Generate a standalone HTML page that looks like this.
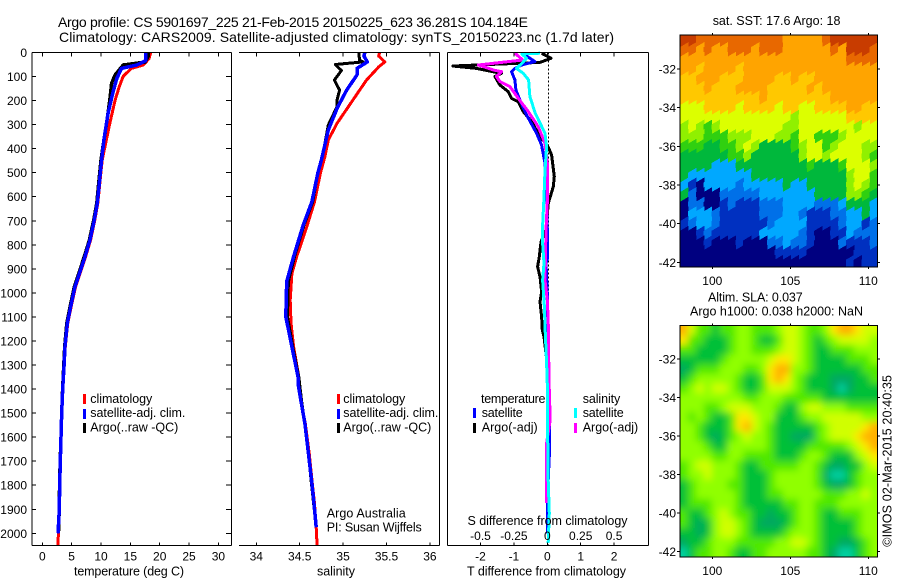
<!DOCTYPE html>
<html><head><meta charset="utf-8"><title>Argo profile</title>
<style>
html,body{margin:0;padding:0;background:#fff}
svg{display:block}
text{font-family:"Liberation Sans",sans-serif;font-size:12px;fill:#000}
.t{font-size:14px}
.k{font-size:12.5px}
</style></head><body>
<svg id="fig" xmlns="http://www.w3.org/2000/svg" width="900" height="580" viewBox="0 0 900 580">
<rect width="900" height="580" fill="#fff"/>
<g id="mapA"></g>
<g id="mapB"></g>
<g id="plots"></g>
<g id="axes"></g>
<text class="t" x="58" y="27" textLength="470" lengthAdjust="spacing">Argo profile: CS 5901697_225 21-Feb-2015 20150225_623 36.281S 104.184E</text>
<text class="t" x="59" y="42" textLength="555" lengthAdjust="spacing">Climatology: CARS2009. Satellite-adjusted climatology: synTS_20150223.nc (1.7d later)</text>
<text class="k" x="74" y="575.5" textLength="110" lengthAdjust="spacing">temperature (deg C)</text>
<text class="k" x="317" y="575.5" textLength="38" lengthAdjust="spacing">salinity</text>
<text class="k" x="467" y="575.5" textLength="159" lengthAdjust="spacing">T difference from climatology</text>
<text class="k" x="467.5" y="525" textLength="160" lengthAdjust="spacing">S difference from climatology</text>
<g>
<rect x="83" y="394" width="3" height="10" fill="#f00"/>
<text class="k" x="90.3" y="403" textLength="62" lengthAdjust="spacing">climatology</text>
<rect x="83" y="409" width="3" height="10" fill="#00f"/>
<text class="k" x="90.3" y="417" textLength="95" lengthAdjust="spacing">satellite-adj. clim.</text>
<rect x="83" y="423" width="3" height="10" fill="#000"/>
<text class="k" x="90.3" y="431.5" textLength="88" lengthAdjust="spacing">Argo(..raw -QC)</text>
</g>
<g>
<rect x="337" y="394" width="3" height="10" fill="#f00"/>
<text class="k" x="343.3" y="403" textLength="62" lengthAdjust="spacing">climatology</text>
<rect x="337" y="409" width="3" height="10" fill="#00f"/>
<text class="k" x="343.3" y="417" textLength="95" lengthAdjust="spacing">satellite-adj. clim.</text>
<rect x="337" y="423" width="3" height="10" fill="#000"/>
<text class="k" x="343.3" y="431.5" textLength="88" lengthAdjust="spacing">Argo(..raw -QC)</text>
</g>
<text class="k" x="326.7" y="517.7" textLength="79" lengthAdjust="spacing">Argo Australia</text>
<text class="k" x="326.7" y="531.7" textLength="95" lengthAdjust="spacing">PI: Susan Wijffels</text>
<g>
<text class="k" x="481" y="403" textLength="64.5" lengthAdjust="spacing">temperature</text>
<rect x="473" y="408" width="3" height="10" fill="#00f"/>
<text class="k" x="481.7" y="417" textLength="41" lengthAdjust="spacing">satellite</text>
<rect x="473" y="423" width="3" height="10" fill="#000"/>
<text class="k" x="481.7" y="431.5" textLength="56" lengthAdjust="spacing">Argo(-adj)</text>
<text class="k" x="582.7" y="403" textLength="37.6" lengthAdjust="spacing">salinity</text>
<rect x="574" y="408" width="3" height="10" fill="#0ff"/>
<text class="k" x="582.7" y="417" textLength="41" lengthAdjust="spacing">satellite</text>
<rect x="574" y="423" width="3" height="10" fill="#f0f"/>
<text class="k" x="582.7" y="431.5" textLength="55.5" lengthAdjust="spacing">Argo(-adj)</text>
</g>
<text class="k" x="712.7" y="25" textLength="127.7" lengthAdjust="spacing">sat. SST: 17.6 Argo: 18</text>
<text class="k" x="708" y="301.7" textLength="94.7" lengthAdjust="spacing">Altim. SLA: 0.037</text>
<text class="k" x="690" y="315.7" textLength="173" lengthAdjust="spacing">Argo h1000: 0.038 h2000: NaN</text>
<text class="k" transform="translate(891.7,546.7) rotate(-90)" textLength="171.7" lengthAdjust="spacing">©IMOS 02-Mar-2015 20:40:35</text>
</svg>
<script>
// ---- Profile data (depth in m, temperature in deg C, salinity in psu) ----
const depthTicks = [0,100,200,300,400,500,600,700,800,900,1000,1100,1200,1300,1400,1500,1600,1700,1800,1900,2000];
const tempTicks = [0,5,10,15,20,25,30];
const salTicks = [34,34.5,35,35.5,36];
const salTickLabels = ['34','34.5','35','35.5','36'];
const tDiffTicks = [-2,-1,0,1,2];
const tDiffLabels = ['-2','-1','0','1','2'];
const sDiffLabels = ['-0.5','-0.25','0','0.25','0.5'];
const lonTicks = [100,105,110];
const latTicks = [-32,-34,-36,-38,-40,-42];

const tempClimDepth = [0,25,52,66,98,143,198,295,371,447,544,627,697,780,849,912,974,1057,1127,1224,1307,1400,1500,1600,1700,1800,1900,2000,2052];
const tempClimValues = [18.46,18.2,17.2,15.2,13.8,13.1,12.4,11.5,10.85,10.2,9.8,9.45,8.95,8.22,7.37,6.52,5.67,4.92,4.33,3.92,3.72,3.5,3.32,3.2,3.08,2.97,2.9,2.75,2.65];
const tempArgoDepth = [0,18,40,52,93,128,198,285,395,447,544,627,697,780,849,912,974,1057,1127,1224,1307,1400,1500,1600,1700,1800,1900,1990];
const tempArgoValues = [18,18,17.5,13.8,12.4,11.8,11.5,11,10.3,10,9.6,9.28,8.76,8.03,7.15,6.3,5.47,4.74,4.18,3.82,3.65,3.46,3.3,3.18,3.05,2.95,2.88,2.78];
const tempSatDepth = [0,34,52,66,108,170,254,364,447,544,627,697,780,849,912,974,1057,1127,1224,1307,1355,1400,1500,1600,1700,1800,1900,1950,2000];
const tempSatValues = [17.6,17.6,16.1,13.5,12.7,12,11.2,10.5,10.1,9.71,9.37,8.86,8.13,7.27,6.42,5.57,4.84,4.26,3.87,3.7,3.58,3.48,3.3,3.19,3.07,2.96,2.9,2.8,2.67];

const salClimDepth = [0,15,39,60,115,157,226,295,364,433,500,621,738,849,919,1030,1125,1224,1349,1460,1543,1667,1792,1875,1975,2052];
const salClimValues = [35.42,35.41,35.48,35.41,35.27,35.19,35.06,34.93,34.83,34.79,34.74,34.67,34.57,34.465,34.41,34.39,34.4,34.43,34.49,34.52,34.565,34.61,34.645,34.67,34.69,34.7];
const salArgoDepth = [0,32,39,50,75,115,157,198,226,302,378,447,500,621,718,849,953,1099,1224,1349,1460,1543,1667,1792,1875,1975];
const salArgoValues = [35.18,35.19,35.23,34.91,34.98,34.9,34.96,34.93,34.93,34.83,34.79,34.75,34.71,34.65,34.55,34.44,34.37,34.36,34.42,34.49,34.525,34.56,34.6,34.635,34.66,34.69];
const salSatDepth = [0,15,39,66,93,157,233,323,447,500,621,718,849,953,1099,1224,1349,1376,1460,1543,1667,1792,1875,1975];
const salSatValues = [35.25,35.24,35.28,35.16,35.16,35.04,34.93,34.83,34.75,34.71,34.64,34.54,34.43,34.35,34.34,34.41,34.48,34.48,34.52,34.56,34.6,34.64,34.665,34.69];

const dTempArgoDepth = [3,24,41,56,66,87,100,135,163,191,205,246,288,350,385,426,516,558,627,738,787,850,891,933,995,1037,1099,1155,1182,1300,1600,1990];
const dTempArgoValues = [-0.17,0.11,-0.22,-2.83,-2.12,-1.37,-1.57,-1.42,-1.17,-1.07,-0.87,-0.72,-0.47,-0.22,0,0.13,0.21,0.18,0.03,-0.04,-0.19,-0.24,-0.29,-0.22,-0.17,-0.22,-0.17,-0.15,-0.1,0,0.02,0.03];
const dTempSatDepth = [10,38,52,66,80,114,156,198,260,336,385,461,572,738,860,877,1000,1300,1500,1650,1800,2000];
const dTempSatValues = [-0.67,-0.37,-0.77,-0.97,-1.07,-0.97,-0.94,-0.82,-0.62,-0.32,-0.17,-0.07,-0.02,0,0,-0.04,0,0.03,0.07,0.07,0.02,0];
const dSalSatDepth = [3,6,24,45,66,87,114,184,253,336,392,489,600,738,780,877,947,1058,1169,1293,1418,1570,1778,1917,2040];
const dSalSatValues = [-0.055,-0.19,-0.155,-0.19,-0.23,-0.18,-0.14,-0.13,-0.09,-0.017,-0.005,-0.017,-0.025,-0.037,-0.037,-0.025,-0.035,-0.022,-0.015,-0.005,0.002,0.002,0.007,0.015,0.007];
const dSalArgoDepth = [3,31,52,73,80,100,121,142,191,246,309,378,461,600,738,947,1030,1113,1224,1349,1529,1624,1874];
const dSalArgoValues = [-0.242,-0.185,-0.516,-0.404,-0.342,-0.38,-0.354,-0.28,-0.217,-0.142,-0.067,-0.017,0,0.002,-0.01,-0.017,0,0.007,0.01,0.012,0.022,-0.005,-0.005];

// ---- Map data: colour-bin level per 0.5-degree cell, north to south ----
const sstLevels = [
[11,11,10,10,10,10,10,10,10,10,10,10,10,9,9,9,9,9,10,11,11,11,11,11,11],
[10,10,9,10,9,9,10,10,10,9,10,10,10,9,9,9,9,9,9,10,9,11,11,11,10],
[9,9,9,9,9,9,9,9,9,9,9,9,9,9,9,9,9,9,9,9,9,10,10,10,10],
[9,9,8,9,9,9,9,8,9,9,9,9,9,9,9,9,9,9,9,9,9,9,9,9,9],
[8,8,9,9,9,8,8,8,9,9,9,9,8,8,9,8,8,9,9,9,9,9,9,9,9],
[8,8,8,9,8,8,8,9,9,9,9,8,8,8,8,8,9,8,9,9,9,9,9,9,9],
[8,8,8,8,8,8,8,8,8,8,9,8,8,8,8,8,8,8,8,9,9,9,9,9,9],
[7,7,7,8,8,8,8,7,8,8,8,8,7,8,8,7,7,8,8,8,8,9,9,8,8],
[7,7,7,7,7,7,7,7,7,7,7,7,7,7,6,7,7,7,7,7,7,8,8,8,8],
[6,7,6,5,6,7,7,7,7,7,7,7,7,6,6,7,7,7,7,7,7,7,6,7,7],
[6,6,6,5,5,5,6,6,6,7,7,7,6,6,5,7,7,5,5,5,6,7,7,7,7],
[5,5,5,4,4,5,5,6,7,6,4,4,4,4,5,6,7,7,5,6,7,7,7,6,6],
[4,4,4,4,4,4,5,5,6,4,4,4,4,4,4,6,7,7,6,7,7,7,7,6,5],
[4,4,4,4,3,3,3,4,4,4,4,4,4,4,4,4,5,4,4,4,5,7,7,7,6],
[4,3,3,3,3,3,3,3,3,4,4,4,4,4,4,4,4,4,4,4,4,6,7,7,5],
[3,1,0,3,3,3,3,2,3,3,3,3,3,4,3,3,4,4,4,4,4,6,7,6,5],
[4,2,0,0,0,2,2,2,2,2,3,3,3,3,3,3,3,4,4,4,4,6,6,5,4],
[0,2,2,0,0,1,2,1,1,1,2,2,2,3,3,3,3,2,2,2,3,4,4,4,3],
[0,3,3,3,2,1,1,1,1,1,2,2,2,3,3,2,1,1,1,2,2,3,3,4,3],
[1,2,3,3,2,1,1,1,1,1,1,2,3,3,3,3,1,1,1,1,2,3,3,1,2],
[0,0,1,2,1,1,1,1,1,1,3,3,3,3,3,2,1,0,0,1,1,3,2,2,2],
[0,0,0,1,0,0,0,1,0,0,0,2,2,3,2,2,1,0,0,0,2,1,1,1,2],
[0,0,0,0,0,0,0,0,0,0,0,0,1,1,1,1,0,0,0,0,0,0,1,1,1],
[0,0,0,0,0,0,0,0,0,0,0,0,0,0,0,0,0,0,0,0,0,1,0,1,1]
];
const slaLevels = [
[7,5,3,3,2,3,3,4,4,3,3,3,4,5,5,4,3,3,4,6,7,7,6,5,5],
[6,3,3,2,2,2,3,4,4,3,2,2,3,5,5,4,3,2,3,4,5,5,5,5,4],
[3,3,2,2,2,2,3,4,4,3,3,3,4,5,5,4,3,2,2,3,3,3,4,4,4],
[2,2,2,2,2,3,4,4,4,4,4,5,6,6,5,4,3,2,2,2,2,3,3,3,4],
[1,2,3,3,3,4,4,4,3,3,4,6,7,7,4,4,3,2,2,2,2,2,2,3,3],
[2,3,4,4,4,4,4,3,2,2,3,6,7,6,4,3,2,2,2,1,1,1,2,2,3],
[3,4,5,4,5,5,4,3,2,2,3,5,5,5,4,3,2,2,2,1,0,1,2,2,2],
[4,4,4,4,4,4,4,4,3,3,4,4,4,3,3,3,3,3,2,2,2,2,2,2,2],
[4,4,4,3,3,4,5,5,5,4,4,4,3,2,2,4,5,5,4,4,4,3,3,3,3],
[4,3,4,3,2,2,3,6,6,5,4,4,2,2,2,3,4,4,5,5,5,5,5,4,4],
[4,4,3,2,2,2,3,6,7,5,4,3,2,2,2,2,2,3,4,5,5,5,5,6,7],
[4,4,3,2,1,2,3,4,5,4,4,3,2,2,1,1,1,3,4,5,5,5,6,7,7],
[4,4,4,3,2,2,4,4,4,4,4,3,2,2,2,2,3,3,3,3,3,4,5,6,7],
[4,4,4,4,3,3,4,4,3,3,3,3,2,2,2,3,4,4,3,2,2,2,4,5,6],
[3,4,5,5,4,4,4,3,2,2,3,3,3,3,3,4,4,3,2,1,1,2,2,4,5],
[3,4,4,5,4,4,4,3,2,2,2,3,4,4,4,4,4,3,1,0,0,2,3,4,4],
[2,3,4,4,4,4,3,3,2,2,2,3,4,4,4,4,4,3,2,1,1,2,3,4,4],
[2,3,4,4,4,4,4,3,2,2,2,3,3,4,4,4,4,4,3,3,3,4,4,5,4],
[2,3,3,3,4,4,4,3,2,2,2,2,2,3,3,4,4,3,3,3,4,4,4,4,4],
[3,2,2,3,4,5,4,3,3,2,2,1,2,2,3,4,4,3,2,2,3,3,3,4,4],
[3,2,1,2,4,5,5,4,3,2,1,1,1,2,3,4,4,3,2,2,2,2,3,4,4],
[2,2,1,2,4,5,5,4,3,2,2,2,2,3,4,4,4,3,2,2,2,2,3,4,4],
[1,2,2,3,4,4,4,3,3,3,3,3,4,4,5,5,4,3,2,2,1,1,2,3,4],
[0,2,3,3,4,4,3,2,2,3,3,4,4,4,4,4,3,3,2,1,0,0,2,3,4]
];
const sstColors = ['#000080','#0030c0','#0070e8','#00a8ff','#00b83c','#30d010','#90f000','#dcff00','#ffc800','#ffa400','#e86800','#c83c00'];
const slaColors = ['#00d0a0','#00a860','#00c038','#50e800','#90ff00','#d0ff00','#ffe800','#ffb000'];

// ---- Axis functions ----
const SVGNS = 'http://www.w3.org/2000/svg';
const depthY = d => 52.5 + d * 0.2404;
const tempX = t => 42.3 + t * 5.87;
const salX = s => 256.3 + (s - 34) * 86.8;
const tDiffX = t => 547.3 + t * 33.4;
const sDiffX = s => 547.3 + s * 133.6;
const lonX = lon => 712.3 + (lon - 100) * 15.6;
const latYA = lat => 69 + (-32 - lat) * 19.33;
const latYB = lat => 359 + (-32 - lat) * 19.27;

function mk(tag, attrs, parent) {
  const el = document.createElementNS(SVGNS, tag);
  for (const k in attrs) el.setAttribute(k, attrs[k]);
  parent.appendChild(el);
  return el;
}
function seg(x1, y1, x2, y2, parent) {
  const el = mk('line', {x1:x1, y1:y1, x2:x2, y2:y2, stroke:'#000', 'stroke-width':1, 'shape-rendering':'crispEdges'}, parent);
  
  
}
function label(x, y, str, anchor, parent) {
  const el = mk('text', {x:x, y:y, 'text-anchor':anchor}, parent);
  el.textContent = str;
  
  
}
function curve(depths, values, xf, color, width, name) {
  const pts = depths.map((d, i) => xf(values[i]).toFixed(1) + ',' + depthY(d).toFixed(1)).join(' ');
  const el = mk('polyline', {points:pts, fill:'none', stroke:color, 'stroke-width':width, 'stroke-linejoin':'round', 'shape-rendering':'crispEdges'}, document.getElementById('plots'));
  
  
}

// ---- Profile curves ----
curve(tempClimDepth, tempClimValues, tempX, '#f00', 3, 'temperature-climatology-line');
curve(tempArgoDepth, tempArgoValues, tempX, '#000', 3.5, 'temperature-argo-line');
curve(tempSatDepth, tempSatValues, tempX, '#00f', 3.5, 'temperature-satellite-line');
curve(salClimDepth, salClimValues, salX, '#f00', 3, 'salinity-climatology-line');
curve(salArgoDepth, salArgoValues, salX, '#000', 3, 'salinity-argo-line');
curve(salSatDepth, salSatValues, salX, '#00f', 3.5, 'salinity-satellite-line');
(function () {
  const zero = mk('line', {x1:548.5, y1:52.5, x2:548.5, y2:545.5, stroke:'#000', 'stroke-width':1, 'stroke-dasharray':'2 2', 'shape-rendering':'crispEdges'}, document.getElementById('plots'));
  
  
})();
curve(dTempArgoDepth, dTempArgoValues, tDiffX, '#000', 3, 't-difference-argo-line');
curve(dTempSatDepth, dTempSatValues, tDiffX, '#00f', 3, 't-difference-satellite-line');
curve(dSalArgoDepth, dSalArgoValues, sDiffX, '#f0f', 3, 's-difference-argo-line');
curve(dSalSatDepth, dSalSatValues, sDiffX, '#0ff', 3, 's-difference-satellite-line');

// ---- Profile axes ----
(function () {
  const ax = document.getElementById('axes');
  const top = 52.5, bot = 545.5;
  seg(32, top, 231.5, top, ax); seg(32, bot, 231.5, bot, ax); seg(32, top, 32, bot, ax); seg(231.5, top, 231.5, bot, ax);
  depthTicks.forEach(d => {
    seg(32, depthY(d), 36, depthY(d), ax);
    seg(226, depthY(d), 231.5, depthY(d), ax);
    label(27, depthY(d) + 4.5, String(d), 'end', ax);
  });
  tempTicks.forEach(t => {
    seg(tempX(t), top, tempX(t), top + 4, ax);
    seg(tempX(t), bot - 3, tempX(t), bot, ax);
    label(tempX(t), 560.5, String(t), 'middle', ax);
  });
  seg(239, top, 439.5, top, ax); seg(239, bot, 439.5, bot, ax); seg(439.5, top, 439.5, bot, ax);
  salTicks.forEach((s, i) => {
    seg(salX(s), top, salX(s), top + 4, ax);
    seg(salX(s), bot - 3, salX(s), bot, ax);
    label(salX(s), 560.5, salTickLabels[i], 'middle', ax);
  });
  seg(447.5, top, 648.5, top, ax); seg(447.5, bot, 648.5, bot, ax); seg(447.5, top, 447.5, bot, ax); seg(648.5, top, 648.5, bot, ax);
  tDiffTicks.forEach((t, i) => {
    seg(tDiffX(t), top, tDiffX(t), top + 4, ax);
    seg(tDiffX(t), bot - 3, tDiffX(t), bot, ax);
    label(tDiffX(t), 560.5, tDiffLabels[i], 'middle', ax);
    label(tDiffX(t), 540, sDiffLabels[i], 'middle', ax);
  });
})();

// ---- Maps ----
function drawMap(groupId, levels, colors, latY, latTop, blurId) {
  const host = document.getElementById(groupId);
  const lon0 = 97.93, step = 0.506, rowStep = 0.5;
  const yTop = latY(latTop), yBot = latY(latTop - rowStep * levels.length);
  const clipId = groupId + '-clip';
  const defs = mk('defs', {}, host);
  const clip = mk('clipPath', {id:clipId}, defs);
  mk('rect', {x:680, y:yTop, width:197.5, height:yBot - yTop}, clip);
  const outer = mk('g', {'clip-path':'url(#' + clipId + ')'}, host);
  let inner = outer;
  if (blurId) {
    const f = mk('filter', {id:blurId, x:'-20%', y:'-20%', width:'140%', height:'140%'}, defs);
    mk('feGaussianBlur', {stdDeviation:3.6}, f);
    inner = mk('g', {filter:'url(#' + blurId + ')'}, outer);
  }
  const slant = blurId ? 0 : 5;
  const nRows = levels.length;
  levels.forEach((row, j) => {
    row.forEach((v, i) => {
      let x = lonX(lon0 + step * i), y = latY(latTop - rowStep * j);
      let x2 = lonX(lon0 + step * (i + 1)) + 0.6, y2 = latY(latTop - rowStep * (j + 1)) + 0.6;
      if (blurId) {
        if (i === 0) x -= 20;
        if (i === row.length - 1) x2 += 20;
        if (j === 0) y -= 20;
        if (j === nRows - 1) y2 += 20;
      } else {
        if (j === 0) y -= 12;
        if (j === nRows - 1) y2 += 12;
      }
      const off = slant / 2;
      const pts = [[x, y + off], [x2, y - off], [x2, y2 - off], [x, y2 + off]].map(p => p[0].toFixed(1) + ',' + p[1].toFixed(1)).join(' ');
      const cell = mk('polygon', {points:pts, fill:colors[v], 'shape-rendering': blurId ? 'auto' : 'crispEdges'}, inner);
      
      
    });
  });
  const frame = mk('rect', {x:680, y:yTop, width:197.5, height:yBot - yTop, fill:'none', stroke:'#000', 'stroke-width':1, 'shape-rendering':'crispEdges'}, host);
  
  
  lonTicks.forEach(lon => {
    seg(lonX(lon), yTop - 2, lonX(lon), yTop, host);
    seg(lonX(lon), yBot, lonX(lon), yBot + 2, host);
    label(lonX(lon), yBot + 18, String(lon), 'middle', host);
  });
  latTicks.forEach(lat => {
    seg(677, latY(lat), 680, latY(lat), host);
    seg(877.5, latY(lat), 880, latY(lat), host);
    label(676, latY(lat) + 4.5, String(lat), 'end', host);
  });
}
drawMap('mapA', sstLevels, sstColors, latYA, -30.24, null);
drawMap('mapB', slaLevels, slaColors, latYB, -30.27, 'sla-blur');
</script>
</body></html>
